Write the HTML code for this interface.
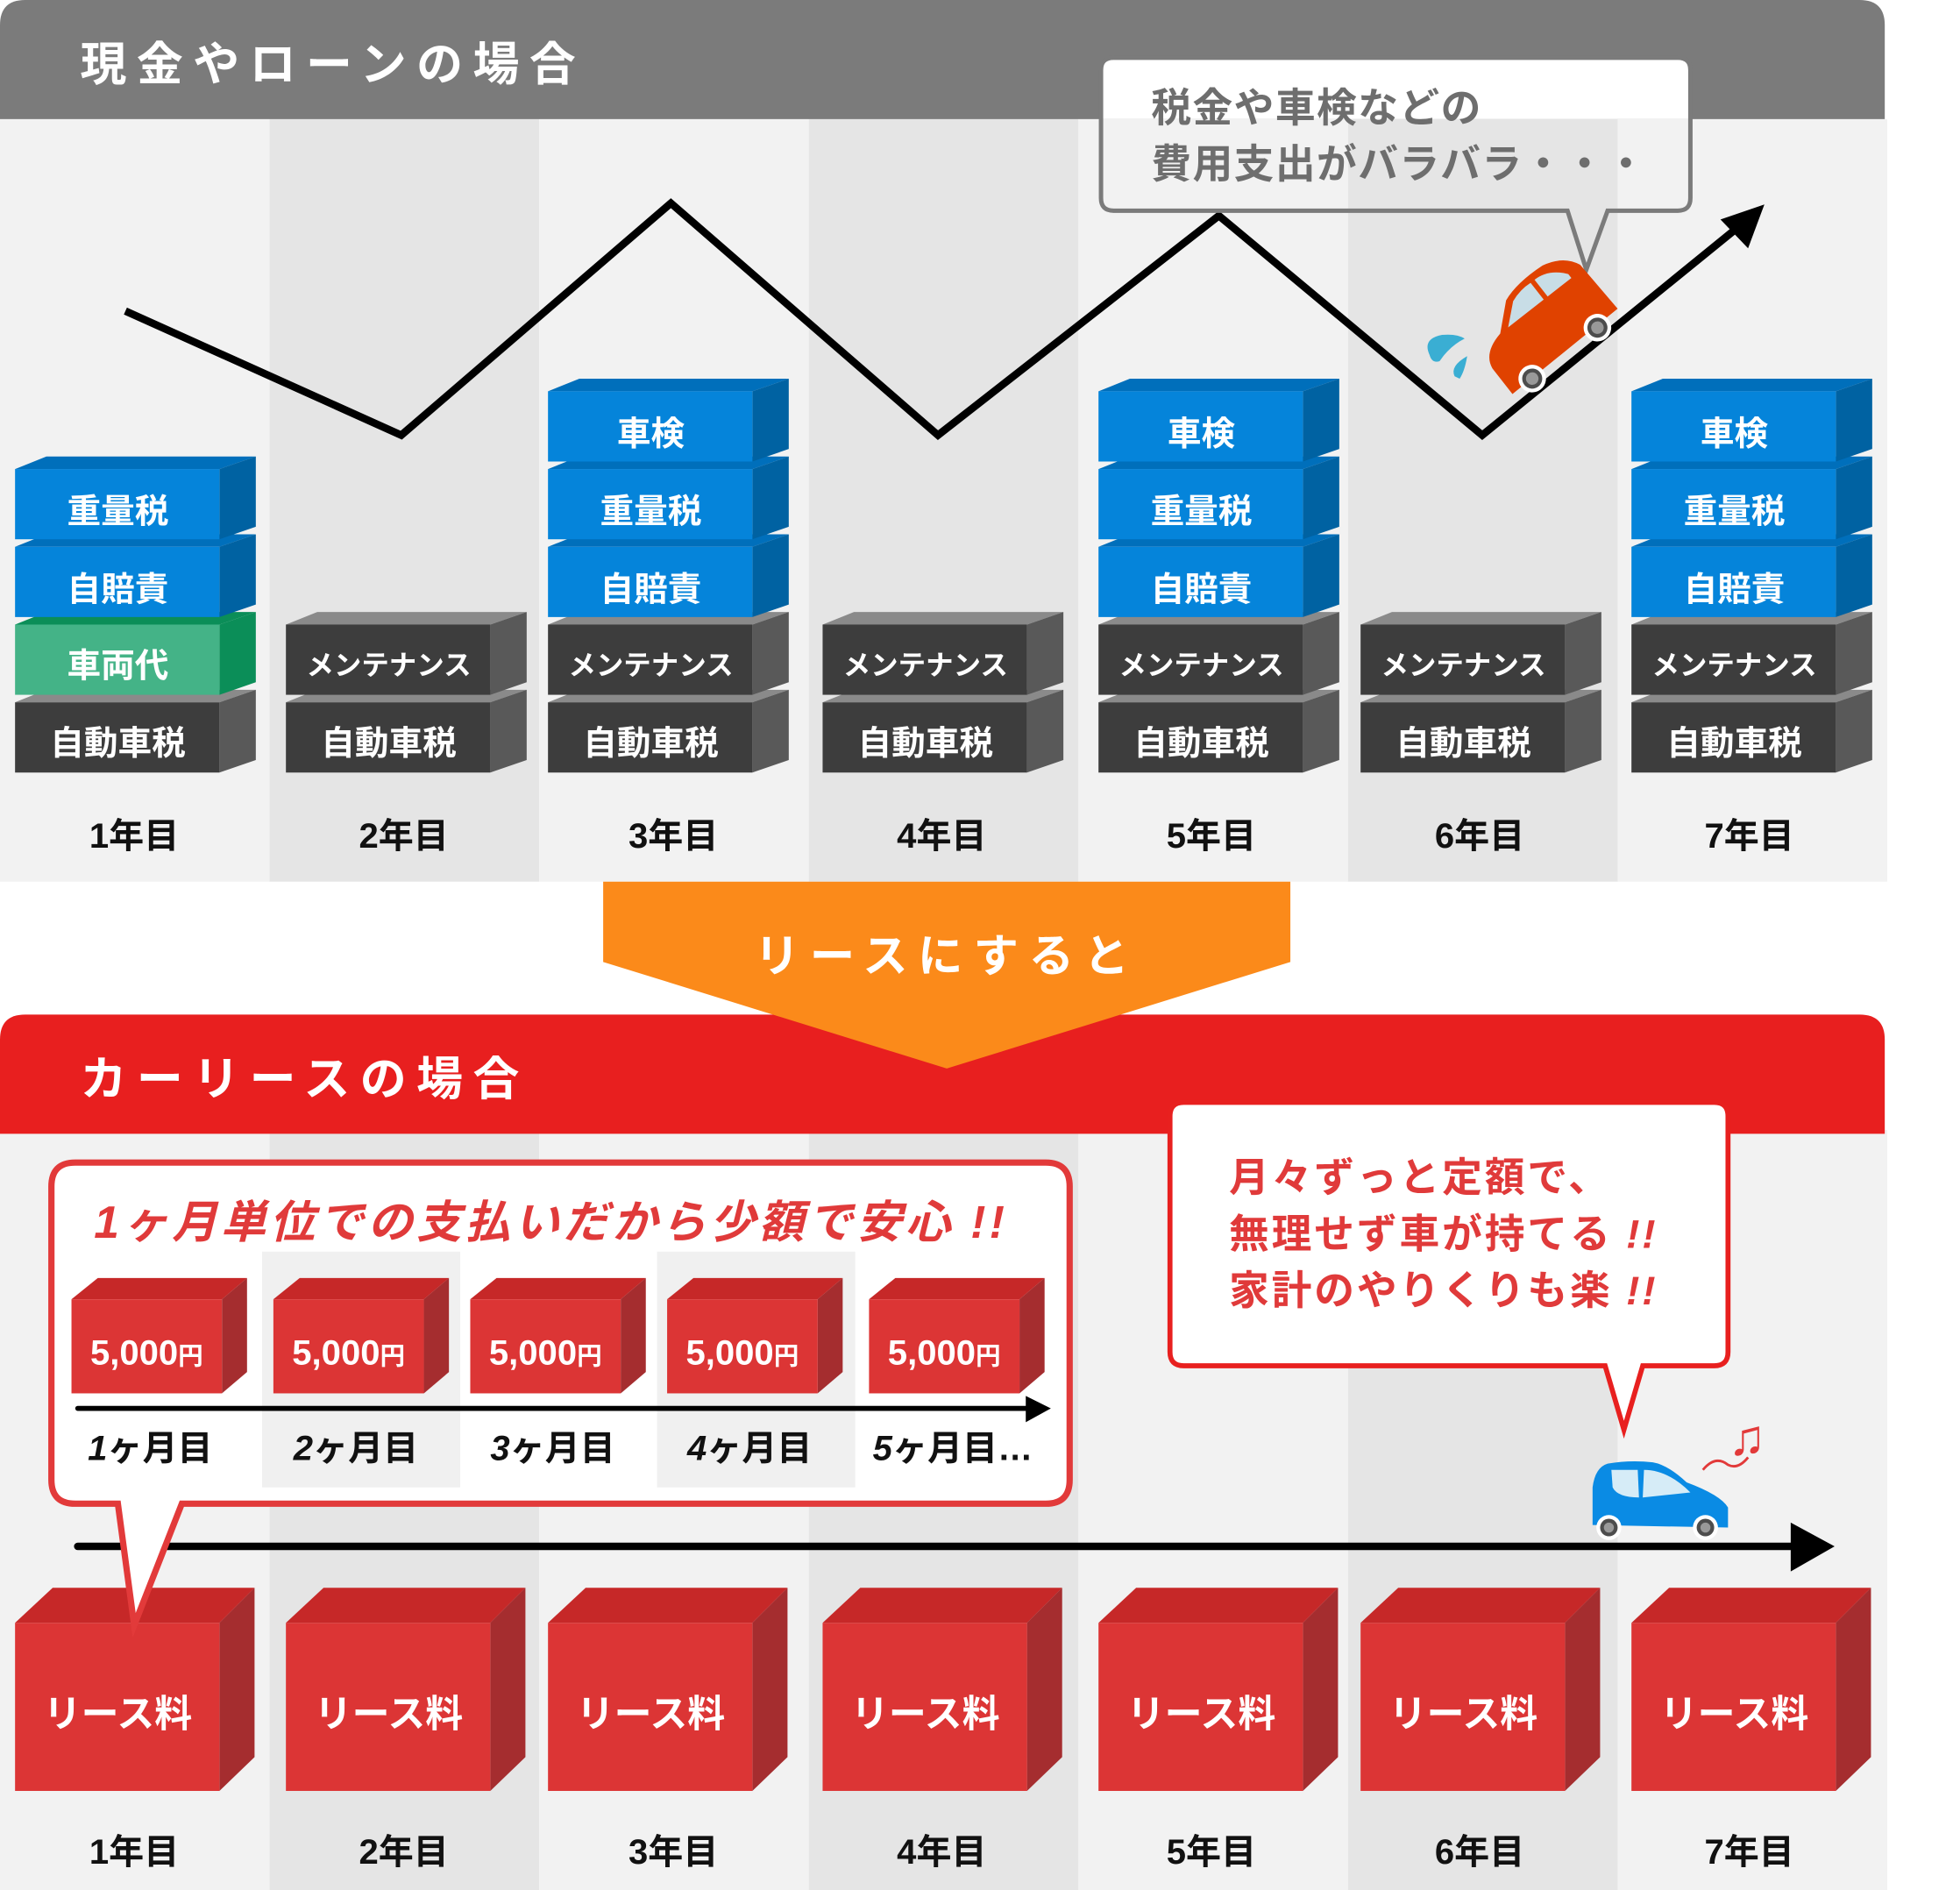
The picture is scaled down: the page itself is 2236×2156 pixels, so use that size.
<!DOCTYPE html>
<html><head><meta charset="utf-8"><style>
html,body{margin:0;padding:0;background:#fff;}
svg{display:block;}
text{font-family:"Liberation Sans","Noto Sans CJK JP",sans-serif;font-weight:700;}
</style></head><body>
<svg id="s" width="2236" height="2156" viewBox="0 0 1563 1507" preserveAspectRatio="none" xmlns="http://www.w3.org/2000/svg">
<g id="bg"></g>
<g id="shapes"></g>
<polyline points="100,248 320,347 535,162 748,347 972,172 1182,347 1385,182" fill="none" stroke="#000" stroke-width="6" stroke-linejoin="miter"/>
<polygon points="1407,163 1372,175 1394,198" fill="#000"/>
<path d="M889,46 H1337 Q1347,46 1347,56 V95 H879 V56 Q879,46 889,46Z" fill="#fff"/>
<path d="M888,46 H1338 Q1348,46 1348,56 V158 Q1348,168 1338,168 H1282 L1265,215 L1250,168 H888 Q878,168 878,158 V56 Q878,46 888,46Z" fill="none" stroke="#7b7b7b" stroke-width="3.5"/>
<text x="918" y="97" font-size="32" fill="#6e6e6e" letter-spacing="1">税金や車検などの</text>
<text x="918" y="142" font-size="32" fill="#6e6e6e" letter-spacing="1">費用支出がバラバラ・・・</text>
<g transform="translate(1236,268) rotate(-38)">
<path d="M-52,18 L-52,-8 Q-50,-22 -30,-26 L-10,-44 Q5,-50 30,-48 Q48,-44 54,-30 L56,16 Z" fill="#e04200"/>
<path d="M-22,-26 L-6,-40 Q4,-44 14,-43 L14,-26Z" fill="#c8dde6"/>
<path d="M18,-43 Q32,-43 42,-30 L42,-26 L18,-26Z" fill="#c8dde6"/>
<circle cx="-32" cy="18" r="11" fill="#fff"/><circle cx="-32" cy="18" r="8" fill="#4d4d4d"/><circle cx="-32" cy="18" r="5" fill="#999"/>
<circle cx="34" cy="18" r="11" fill="#fff"/><circle cx="34" cy="18" r="8" fill="#4d4d4d"/><circle cx="34" cy="18" r="5" fill="#999"/>
</g>
<path d="M1140,283 Q1134,270 1150,267 Q1162,266 1168,270 Q1156,276 1148,288 Q1142,290 1140,283Z" fill="#3aaed3"/>
<path d="M1160,300 Q1156,292 1170,284 Q1168,296 1164,302Z" fill="#3aaed3"/>
<polygon points="481,703 1029,703 1029,767 755,852 481,767" fill="#fb8a1a"/>
<text x="755" y="775" font-size="36" fill="#fff" text-anchor="middle" letter-spacing="8">リースにすると</text>
<line x1="62" y1="1233" x2="1432" y2="1233" stroke="#000" stroke-width="6" stroke-linecap="round"/>
<polygon points="1428,1214 1463,1233 1428,1253" fill="#000"/>
<path d="M60,927 H834 Q853,927 853,946 V1180 Q853,1199 834,1199 H145 L107,1296 L94,1199 H60 Q41,1199 41,1180 V946 Q41,927 60,927Z" fill="#fff" stroke="#e23a3a" stroke-width="5"/>
<rect x="209" y="998" width="158" height="188" fill="#f0f0f0"/>
<rect x="524" y="998" width="158" height="188" fill="#f0f0f0"/>
<g id="s2"></g>
<text x="75" y="987" font-size="36" fill="#e03a3a" font-style="italic" letter-spacing="3">1ヶ月単位での支払いだから少額で安心 !!</text>
<line x1="62" y1="1123" x2="822" y2="1123" stroke="#000" stroke-width="4" stroke-linecap="round"/>
<polygon points="818,1113 838,1123 818,1134" fill="#000"/>
<g font-size="28" fill="#111">
<text x="70" y="1164"><tspan font-style="italic">1</tspan>ヶ月目</text><text x="234" y="1164"><tspan font-style="italic">2</tspan>ヶ月目</text><text x="391" y="1164"><tspan font-style="italic">3</tspan>ヶ月目</text><text x="548" y="1164"><tspan font-style="italic">4</tspan>ヶ月目</text><text x="696" y="1164"><tspan font-style="italic">5</tspan>ヶ月目…</text>
</g>
<g font-size="28" fill="#fff">
<text x="117" y="1088" text-anchor="middle">5,000<tspan font-size="20">円</tspan></text>
<text x="278" y="1088" text-anchor="middle">5,000<tspan font-size="20">円</tspan></text>
<text x="435" y="1088" text-anchor="middle">5,000<tspan font-size="20">円</tspan></text>
<text x="592" y="1088" text-anchor="middle">5,000<tspan font-size="20">円</tspan></text>
<text x="753" y="1088" text-anchor="middle">5,000<tspan font-size="20">円</tspan></text>
</g>
<path d="M944,879 H1367 Q1378,879 1378,890 V1078 Q1378,1089 1367,1089 H1310 L1295,1140 L1280,1089 H944 Q933,1089 933,1078 V890 Q933,879 944,879Z" fill="#fff" stroke="#e8201f" stroke-width="4"/>
<g font-size="32" fill="#e03a3a" letter-spacing="2">
<text x="980" y="950">月々ずっと定額で、</text>
<text x="980" y="995">無理せず車が持てる <tspan font-style="italic">!!</tspan></text>
<text x="980" y="1040">家計のやりくりも楽 <tspan font-style="italic">!!</tspan></text>
</g>
<path d="M1270,1216 L1270,1186 Q1272,1170 1282,1167 Q1300,1164 1318,1166 Q1330,1168 1345,1182 Q1372,1192 1378,1202 L1378,1218 Z" fill="#0a8be4"/>
<path d="M1285,1172 L1306,1172 L1307,1194 Q1290,1194 1286,1186Z" fill="#d6ecf7"/>
<path d="M1311,1172 Q1330,1172 1348,1190 L1310,1194Z" fill="#d6ecf7"/>
<circle cx="1283" cy="1218" r="10" fill="#fff"/><circle cx="1283" cy="1218" r="7" fill="#4d4d4d"/><circle cx="1283" cy="1218" r="4" fill="#999"/>
<circle cx="1360" cy="1218" r="10" fill="#fff"/><circle cx="1360" cy="1218" r="7" fill="#4d4d4d"/><circle cx="1360" cy="1218" r="4" fill="#999"/>
<text x="1378" y="1160" font-size="40" fill="#e23a3a" font-weight="400">♫</text>
<path d="M1358,1172 Q1368,1160 1378,1168 Q1386,1172 1394,1162" fill="none" stroke="#e23a3a" stroke-width="2"/>
<text x="64" y="64" font-size="37" fill="#fff" letter-spacing="8">現金やローンの場合</text>
<text x="64" y="873" font-size="37" fill="#fff" letter-spacing="8">カーリースの場合</text>
<g font-size="27" fill="#fff" text-anchor="middle">
<text x="94" y="602">自動車税</text><text x="94" y="540">車両代</text><text x="94" y="479">自賠責</text><text x="94" y="417">重量税</text>
<text x="310" y="602">自動車税</text>
<text x="519" y="602">自動車税</text><text x="519" y="479">自賠責</text><text x="519" y="417">重量税</text><text x="519" y="355">車検</text>
<text x="738" y="602">自動車税</text>
<text x="958" y="602">自動車税</text><text x="958" y="479">自賠責</text><text x="958" y="417">重量税</text><text x="958" y="355">車検</text>
<text x="1167" y="602">自動車税</text>
<text x="1383" y="602">自動車税</text><text x="1383" y="479">自賠責</text><text x="1383" y="417">重量税</text><text x="1383" y="355">車検</text>
</g>
<g font-size="22" fill="#fff" text-anchor="middle">
<text x="310" y="538">メンテナンス</text><text x="519" y="538">メンテナンス</text><text x="738" y="538">メンテナンス</text><text x="958" y="538">メンテナンス</text><text x="1167" y="538">メンテナンス</text><text x="1383" y="538">メンテナンス</text>
</g>
<g font-size="28" fill="#111" text-anchor="middle">
<text x="107" y="676">1年目</text><text x="322" y="676">2年目</text><text x="537" y="676">3年目</text><text x="751" y="676">4年目</text><text x="966" y="676">5年目</text><text x="1180" y="676">6年目</text><text x="1395" y="676">7年目</text>
<text x="107" y="1486">1年目</text><text x="322" y="1486">2年目</text><text x="537" y="1486">3年目</text><text x="751" y="1486">4年目</text><text x="966" y="1486">5年目</text><text x="1180" y="1486">6年目</text><text x="1395" y="1486">7年目</text>
</g>
<g font-size="30" fill="#fff" text-anchor="middle">
<text x="94" y="1377">リース料</text><text x="310" y="1377">リース料</text><text x="519" y="1377">リース料</text><text x="738" y="1377">リース料</text><text x="958" y="1377">リース料</text><text x="1167" y="1377">リース料</text><text x="1383" y="1377">リース料</text>
</g>
</svg>
<script>
var NS="http://www.w3.org/2000/svg";
function el(p,t,a){var e=document.createElementNS(NS,t);for(var k in a)e.setAttribute(k,a[k]);p.appendChild(e);return e;}
var bg=document.getElementById("bg"),sh=document.getElementById("shapes"),s2=document.getElementById("s2");
for(var k=0;k<7;k++){var c=k%2?"#e5e5e5":"#f2f2f2";el(bg,"rect",{x:k*215,y:95,width:215,height:608,fill:c});el(bg,"rect",{x:k*215,y:901,width:215,height:606,fill:c});}
el(bg,"path",{d:"M20,0 H1483 Q1503,0 1503,20 V95 H0 V20 Q0,0 20,0Z",fill:"#7b7b7b"});
el(bg,"path",{d:"M20,809 H1483 Q1503,809 1503,829 V904 H0 V829 Q0,809 20,809Z",fill:"#e81f1f"});
var C={g:["#3d3d3d","#8a8a8a","#595959"],b:["#0584da","#006fbb","#0062a2"],n:["#44b387","#0b8e58","#0b8e58"]};
function blk(x,y,t){var c=C[t];
el(sh,"polygon",{points:[x,y,x+25,y-10,x+192,y-10,x+163,y].join(" "),fill:c[1]});
el(sh,"polygon",{points:[x+163,y,x+192,y-10,x+192,y+46,x+163,y+56].join(" "),fill:c[2]});
el(sh,"rect",{x:x,y:y,width:163,height:56,fill:c[0]});}
var cols=[[12,["g","n","b","b"]],[228,["g","g"]],[437,["g","g","b","b","b"]],[656,["g","g"]],[876,["g","g","b","b","b"]],[1085,["g","g"]],[1301,["g","g","b","b","b"]]];
cols.forEach(function(c){c[1].forEach(function(t,i){blk(c[0],560-62*i,t);});
var x=c[0];
el(sh,"polygon",{points:[x,1294,x+30,1266,x+191,1266,x+163,1294].join(" "),fill:"#c62828"});
el(sh,"polygon",{points:[x+163,1294,x+191,1266,x+191,1401,x+163,1428].join(" "),fill:"#a52d2f"});
el(sh,"rect",{x:x,y:1294,width:163,height:134,fill:"#dc3535"});});
[57,218,375,532,693].forEach(function(x){
el(s2,"polygon",{points:[x,1036,x+21,1019,x+140,1019,x+120,1036].join(" "),fill:"#c62828"});
el(s2,"polygon",{points:[x+120,1036,x+140,1019,x+140,1094,x+120,1111].join(" "),fill:"#a52d2f"});
el(s2,"rect",{x:x,y:1036,width:120,height:75,fill:"#dc3535"});});
</script>
</body></html>
